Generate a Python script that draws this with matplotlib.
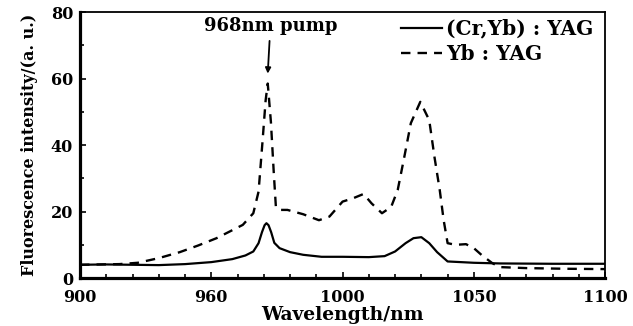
import matplotlib
matplotlib.use("Agg")
import matplotlib.pyplot as plt
from matplotlib.ticker import MultipleLocator, FixedLocator

# ---- data ----
cryb_x = [900, 910, 920, 930, 940, 950, 958, 963, 966, 968, 969.3, 970.3, 971, 971.8, 972.8,
          974, 976, 980, 985, 992, 1000, 1010, 1016, 1020, 1024, 1027, 1030, 1033, 1036,
          1040, 1050, 1060, 1080, 1100]
cryb_y = [4.0, 4.1, 4.0, 3.9, 4.2, 4.8, 5.7, 6.8, 8.0, 10.5, 13.8, 15.9, 16.5, 15.9, 13.8,
          10.6, 9.0, 7.8, 7.0, 6.4, 6.4, 6.3, 6.6, 8.0, 10.5, 12.0, 12.3, 10.5, 7.8,
          5.0, 4.6, 4.4, 4.3, 4.3]

yb_x = [900, 915, 922, 930, 938, 945, 952, 958, 962, 966, 968, 969.5, 970.7, 971.5, 972.7,
        973.8, 974.6, 976, 979, 985, 991, 995, 1000, 1004, 1008, 1011, 1015, 1018.5, 1021,
        1023.5, 1026, 1029.6, 1033, 1035, 1037, 1038.5, 1040, 1043, 1047, 1050, 1053, 1057,
        1060, 1070, 1085, 1100]
yb_y = [4.0, 4.2, 4.6, 6.0, 7.8, 9.8, 12.0, 14.4, 16.0, 19.5, 26.0, 41.0, 53.5, 58.5, 47.0,
        31.6, 21.4, 20.5, 20.5, 19.2, 17.4, 18.5, 23.0, 24.0, 25.3, 22.5, 19.5, 21.4, 26.5,
        36.4, 46.6, 53.0, 47.5, 36.4, 26.5, 17.4, 10.5, 10.0, 10.2, 9.0, 6.9, 4.5,
        3.3, 3.0, 2.8, 2.7]

x_ticks = [900, 950, 1000, 1050, 1100]
x_ticklabels = ["900", "960", "1000", "1050", "1100"]
y_ticks = [0, 20, 40, 60, 80]

series_labels = ["(Cr,Yb) : YAG", "Yb : YAG"]
pump_label = "968nm pump"

# ---- figure ----
plt.rcParams['font.family'] = ['DejaVu Serif']
plt.rcParams['font.weight'] = 'bold'

fig = plt.figure(figsize=(6.33, 3.26), dpi=100)
ax = fig.add_axes([0.1264, 0.147, 0.956 - 0.1264, 0.963 - 0.147])

ax.plot(cryb_x, cryb_y, color='black', lw=1.6, label=series_labels[0])
ax.plot(yb_x, yb_y, color='black', lw=1.7, dashes=(4, 3), label=series_labels[1])

ax.set_xlim(900, 1100)
ax.set_ylim(0, 80)
ax.xaxis.set_major_locator(FixedLocator(x_ticks))
ax.set_xticklabels(x_ticklabels)
ax.xaxis.set_minor_locator(MultipleLocator(10))
ax.yaxis.set_major_locator(FixedLocator(y_ticks))
ax.yaxis.set_minor_locator(MultipleLocator(10))

ax.tick_params(which='both', direction='in', top=False, right=False,
               labelsize=11.5, width=1.2)
ax.tick_params(axis='x', which='major', length=4, pad=8)
ax.tick_params(axis='y', which='major', length=4, pad=5)
ax.tick_params(which='minor', length=3)
for lab in ax.get_xticklabels() + ax.get_yticklabels():
    lab.set_fontweight('bold')

for s in ['left', 'bottom']:
    ax.spines[s].set_linewidth(2.3)
for s in ['top', 'right']:
    ax.spines[s].set_linewidth(1.3)

ax.set_xlabel("Wavelength/nm", fontsize=13.5, fontweight='bold', labelpad=0)
ax.set_ylabel("Fluorescence intensity/(a. u.)", fontsize=11.5, fontweight='bold', labelpad=9)

ax.annotate(pump_label, xy=(971.5, 61.5), xytext=(972.5, 73.0),
            ha='center', va='bottom', fontsize=13, fontweight='bold',
            arrowprops=dict(arrowstyle='-|>', color='black', lw=1.3,
                            mutation_scale=8, shrinkA=2, shrinkB=0))

leg = ax.legend(loc='upper right', bbox_to_anchor=(1.0, 1.02), frameon=False,
                prop={'size': 14.5, 'weight': 'bold'}, handlelength=2.0,
                handletextpad=0.2, labelspacing=0.25, borderaxespad=0.2)

fig.savefig("out.png", dpi=100)
